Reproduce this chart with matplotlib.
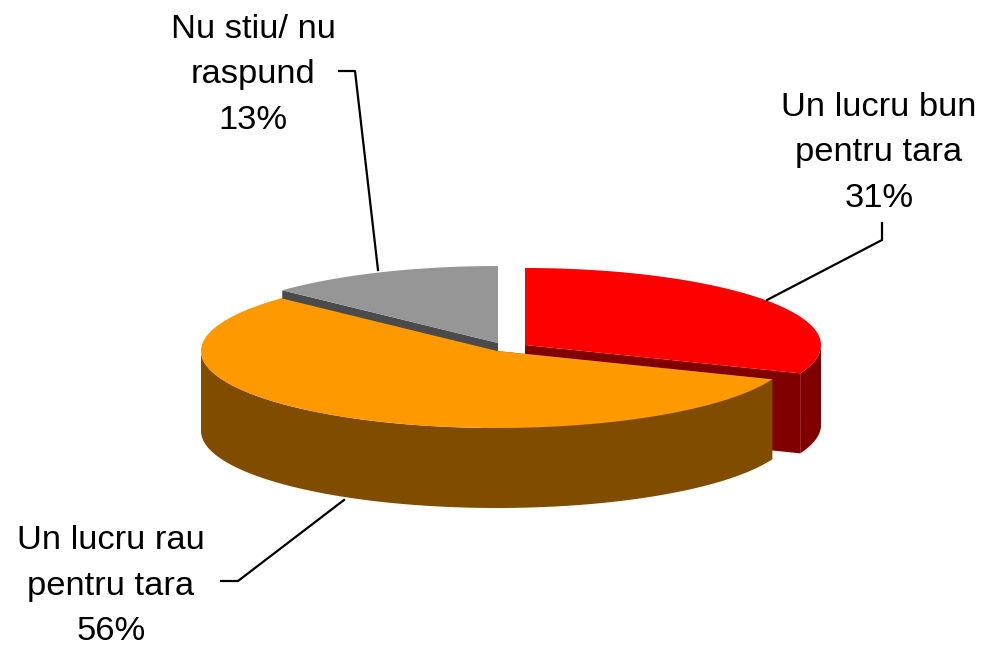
import numpy as np
import matplotlib.pyplot as plt
from matplotlib.patches import Polygon

plt.rcParams['font.family'] = ['Liberation Sans', 'DejaVu Sans']

# valori
categorii = ['Un lucru bun\npentru tara', 'Un lucru rau\npentru tara', 'Nu stiu/ nu\nraspund']
procente = [31, 56, 13]
culori_sus = ['#FF0000', '#FF9900', '#969696']
culori_lat = ['#800000', '#804C00', '#4B4B4B']

RX, RY, H = 296, 77, 80
centre = [(525, 345), (497, 351), (498, 343)]
text_pos = [(879, 153), (111, 586), (253, 75)]
linii = [[(767, 300), (882, 240), (882, 223)],
         [(344, 500), (238, 581), (221, 581)],
         [(378, 270), (355, 71), (339, 71)]]

# unghiurile feliilor, in sensul acelor de ceas de la ora 12
capete = 90 - np.cumsum([0] + procente) * 3.6

fig = plt.figure(figsize=(9.86, 6.45), dpi=100)
ax = fig.add_axes([0, 0, 1, 1])
ax.set_xlim(0, 986)
ax.set_ylim(645, 0)
ax.axis('off')


def arc(c, a1, a2, dy=0):
    t = np.radians(np.linspace(a1, a2, 120))
    return np.column_stack([c[0] + RX * np.cos(t), c[1] - RY * np.sin(t) + dy])


def felie(i, z):
    c = centre[i]
    a1, a2 = capete[i], capete[i + 1]
    sus = arc(c, a1, a2)
    # fetele taiate
    for p in (sus[0], sus[-1]):
        fata = [c, p, (p[0], p[1] + H), (c[0], c[1] + H)]
        ax.add_patch(Polygon(fata, fc=culori_lat[i], ec='none', zorder=z))
    # peretele exterior, doar partea din fata a elipsei
    start = min(a1, 0)
    stop = max(a2, -180)
    if start > stop:
        perete = np.vstack([arc(c, start, stop), arc(c, stop, start, H)])
        ax.add_patch(Polygon(perete, fc=culori_lat[i], ec='none', zorder=z))
    ax.add_patch(Polygon(np.vstack([[c], sus]), fc=culori_sus[i], ec='none', zorder=z + 0.5))


felie(2, 1)
felie(0, 2)
felie(1, 3)

for i in range(3):
    ax.text(text_pos[i][0], text_pos[i][1], f'{categorii[i]}\n{procente[i]}%',
            ha='center', va='center', fontsize=24.8, linespacing=1.6, zorder=6)
    x = [p[0] for p in linii[i]]
    y = [p[1] for p in linii[i]]
    ax.plot(x, y, color='black', lw=1.6, zorder=5)

fig.savefig('out.png', dpi=100)
